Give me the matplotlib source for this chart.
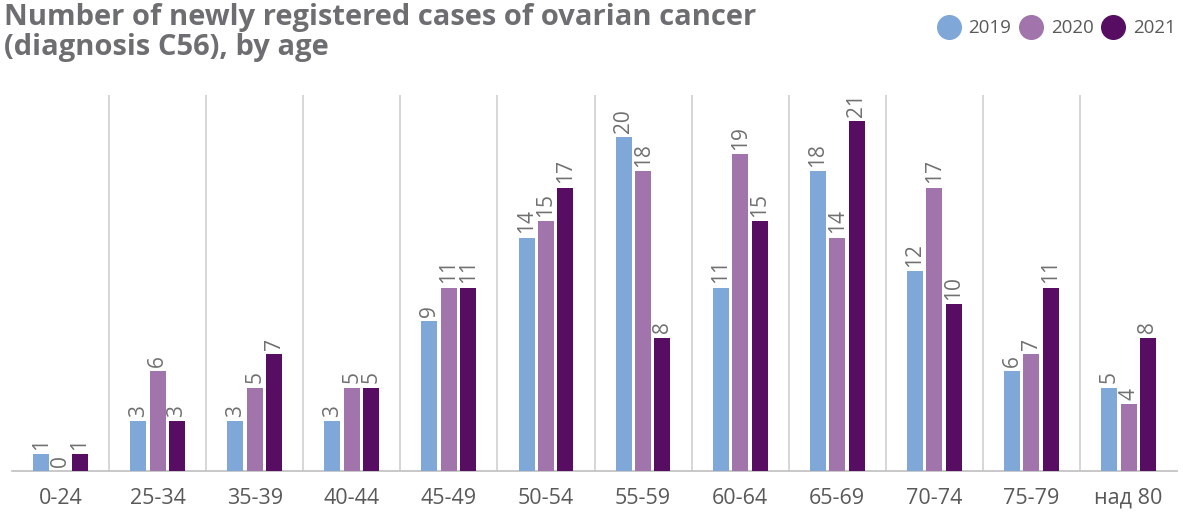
import matplotlib
matplotlib.use("Agg")
import matplotlib.pyplot as plt
from matplotlib.lines import Line2D
import numpy as np

categories = ["0-24", "25-34", "35-39", "40-44", "45-49", "50-54", "55-59",
              "60-64", "65-69", "70-74", "75-79", "над 80"]
years = ["2019", "2020", "2021"]
v2019 = [1, 3, 3, 3, 9, 14, 20, 11, 18, 12, 6, 5]
v2020 = [0, 6, 5, 5, 11, 15, 18, 19, 14, 17, 7, 4]
v2021 = [1, 3, 7, 5, 11, 17, 8, 15, 21, 10, 11, 8]
colors = ["#7FA7D8", "#A175AC", "#560D62"]
title = "Number of newly registered cases of ovarian cancer\n(diagnosis C56), by age"

plt.rcParams['font.family'] = ['Open Sans', 'DejaVu Sans']
fig = plt.figure(figsize=(11.83, 5.13), dpi=100)
ax = fig.add_axes([0.0101, 0.0819, 0.9849, 0.733])

x = np.arange(len(categories))
width = 0.165
offsets = [-0.2, 0.0, 0.2]
series = [v2019, v2020, v2021]
for vals, off, c in zip(series, offsets, colors):
    ax.bar(x + off, vals, width=width, color=c, zorder=3)
    for xi, v in zip(x + off, vals):
        ax.annotate(str(v), (xi, v), xytext=(0, 3), textcoords="offset points",
                    rotation=90, ha="center", va="bottom", color="#707070",
                    fontsize=15)

ax.set_xlim(-0.5, len(categories) - 0.5)
ax.set_ylim(0, 22.55)
ax.set_yticks([])
ax.set_xticks(x)
ax.set_xticklabels(categories, fontsize=15.5, color="#595959")
ax.tick_params(axis="x", length=0, pad=12)
for sep in np.arange(0.5, len(categories) - 0.5, 1.0):
    ax.axvline(sep, color="#D0D0D0", lw=1.2, zorder=1)
for s in ["top", "right", "left"]:
    ax.spines[s].set_visible(False)
ax.spines["bottom"].set_color("#BFBFBF")
ax.spines["bottom"].set_linewidth(1.2)

fig.text(0.003, 0.995, title, ha="left", va="top", fontsize=21,
         fontweight="bold", color="#6D6E71", linespacing=1.08)

handles = [Line2D([], [], marker="o", linestyle="", markersize=17,
                  markerfacecolor=c, markeredgecolor=c) for c in colors]
fig.legend(handles, years, loc="upper right", bbox_to_anchor=(1.008, 0.995),
           ncol=3, frameon=False, fontsize=13.5, handletextpad=0.25,
           columnspacing=0.25, handlelength=1.6, labelcolor="#595959")

fig.savefig("out.png", dpi=100)
